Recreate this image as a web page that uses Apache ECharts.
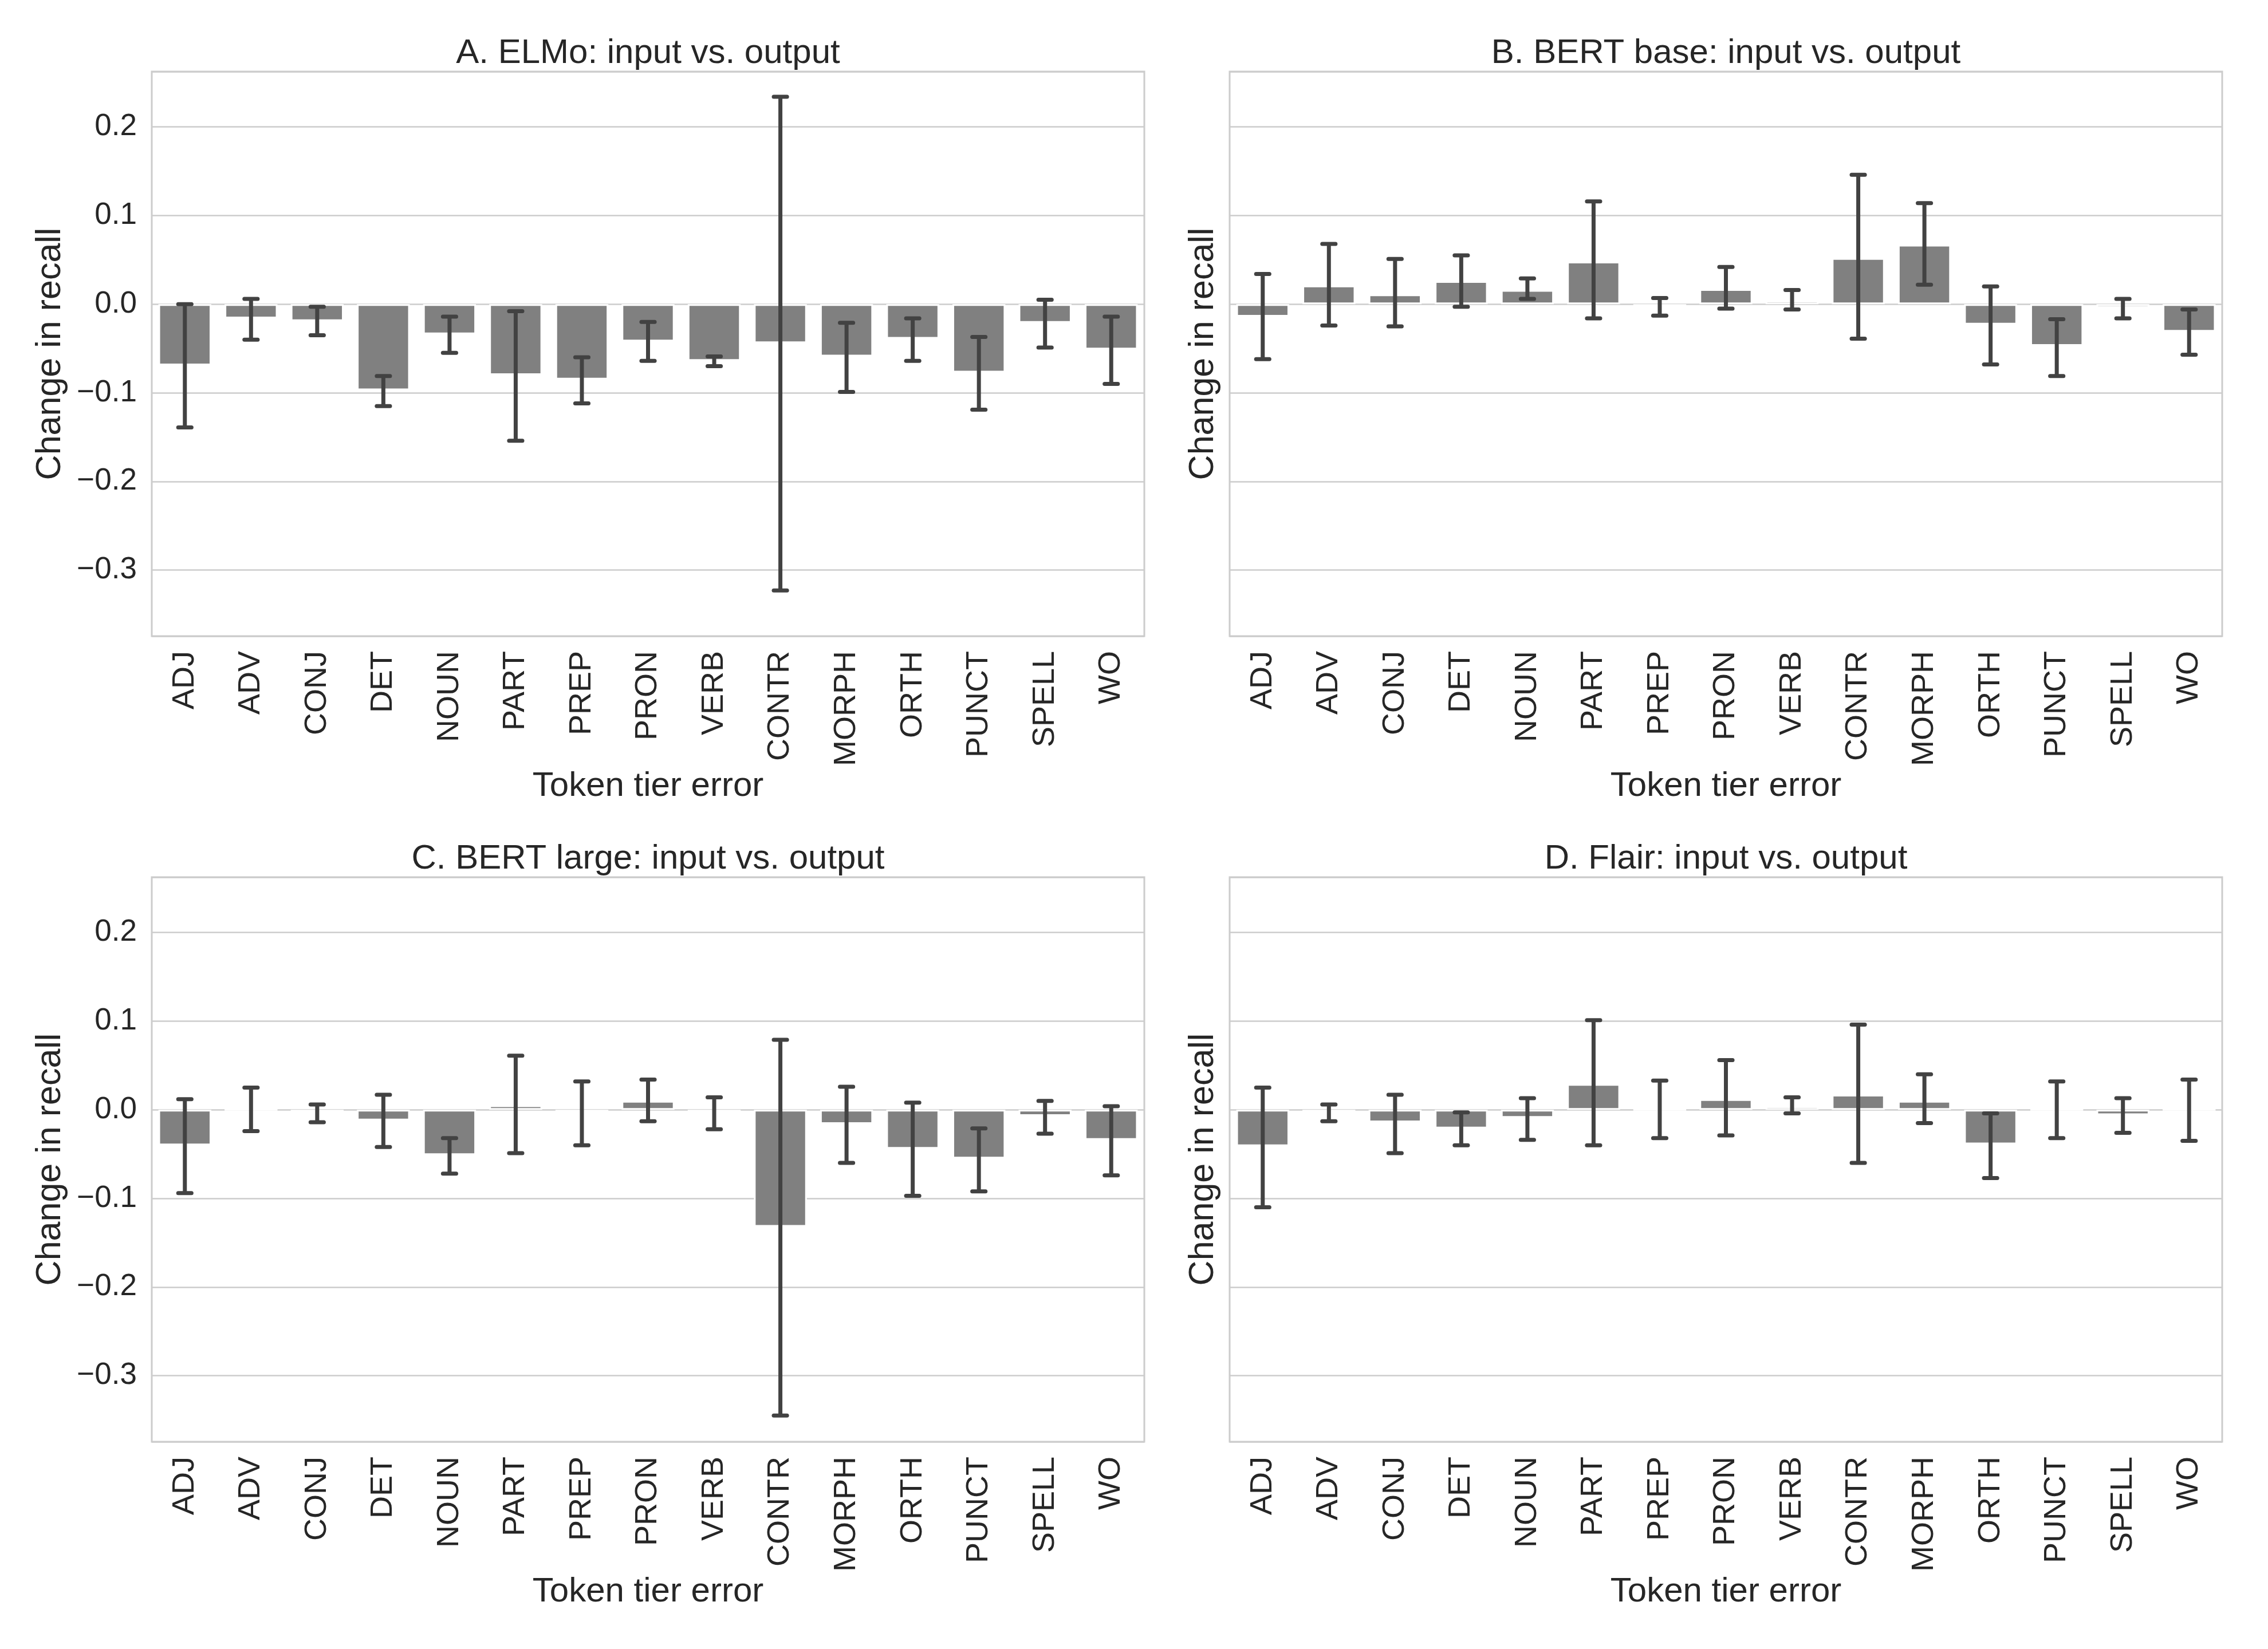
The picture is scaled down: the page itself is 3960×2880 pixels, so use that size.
<!DOCTYPE html>
<html>
<head>
<meta charset="utf-8">
<script src="https://cdn.jsdelivr.net/npm/echarts@6/dist/echarts.min.js"></script>
<style>
    html, body { margin: 0; padding: 0; background: #ffffff; }
    #chart { width: 3960px; height: 2880px; }
</style>
</head>
<body>
<div id="chart"></div>
<script>
const categories = ['ADJ', 'ADV', 'CONJ', 'DET', 'NOUN', 'PART', 'PREP', 'PRON', 'VERB', 'CONTR', 'MORPH', 'ORTH', 'PUNCT', 'SPELL', 'WO'];

// A. ELMo
const elmoMean = [-0.069, -0.016, -0.019, -0.097, -0.034, -0.080, -0.085, -0.042, -0.064, -0.044, -0.059, -0.039, -0.077, -0.021, -0.051];
const elmoLow  = [-0.139, -0.040, -0.035, -0.115, -0.055, -0.154, -0.112, -0.064, -0.070, -0.323, -0.099, -0.064, -0.119, -0.049, -0.090];
const elmoHigh = [0.000, 0.006, -0.003, -0.081, -0.014, -0.008, -0.060, -0.020, -0.059, 0.234, -0.021, -0.016, -0.037, 0.005, -0.014];

// B. BERT base
const bertBaseMean = [-0.014, 0.021, 0.011, 0.026, 0.016, 0.048, -0.002, 0.017, 0.004, 0.052, 0.067, -0.023, -0.047, -0.004, -0.031];
const bertBaseLow  = [-0.062, -0.024, -0.025, -0.003, 0.006, -0.016, -0.013, -0.005, -0.006, -0.039, 0.022, -0.068, -0.081, -0.016, -0.057];
const bertBaseHigh = [0.034, 0.068, 0.051, 0.055, 0.029, 0.116, 0.007, 0.042, 0.016, 0.146, 0.114, 0.020, -0.017, 0.006, -0.006];

// C. BERT large
const bertLargeMean = [-0.040, 0.000, -0.003, -0.012, -0.051, 0.005, -0.002, 0.010, -0.002, -0.132, -0.016, -0.044, -0.055, -0.007, -0.034];
const bertLargeLow  = [-0.094, -0.024, -0.014, -0.042, -0.072, -0.049, -0.040, -0.013, -0.022, -0.345, -0.060, -0.097, -0.092, -0.027, -0.074];
const bertLargeHigh = [0.012, 0.025, 0.006, 0.017, -0.032, 0.061, 0.032, 0.034, 0.014, 0.079, 0.026, 0.008, -0.021, 0.010, 0.004];

// D. Flair
const flairMean = [-0.041, -0.003, -0.014, -0.021, -0.009, 0.029, 0.000, 0.012, 0.004, 0.017, 0.010, -0.039, 0.000, -0.006, 0.000];
const flairLow  = [-0.110, -0.013, -0.049, -0.040, -0.034, -0.040, -0.032, -0.029, -0.004, -0.060, -0.015, -0.077, -0.032, -0.026, -0.035];
const flairHigh = [0.025, 0.006, 0.017, -0.003, 0.013, 0.101, 0.033, 0.056, 0.014, 0.096, 0.040, -0.004, 0.032, 0.013, 0.034];

const panelTitles = ['A. ELMo: input vs. output', 'B. BERT base: input vs. output', 'C. BERT large: input vs. output', 'D. Flair: input vs. output'];
const panelMeans = [elmoMean, bertBaseMean, bertLargeMean, flairMean];
const panelLows = [elmoLow, bertBaseLow, bertLargeLow, flairLow];
const panelHighs = [elmoHigh, bertBaseHigh, bertLargeHigh, flairHigh];

const yMin = -0.3745;
const yMax = 0.2624;

// layout
const plotW = 1733;
const plotH = 986;
const layout = [
    { left: 265, top: 125, yLabels: true },
    { left: 2147, top: 125, yLabels: false },
    { left: 265, top: 1532, yLabels: true },
    { left: 2147, top: 1532, yLabels: false }
];

const fontFamily = "'Liberation Sans', Arial, sans-serif";
const textColor = '#262626';

function formatTick(v) {
    const r = Math.round(v * 10);
    if (Math.abs(v * 10 - r) > 1e-6) return '';
    if (r === 0) return '0.0';
    return (r < 0 ? '\u2212' : '') + (Math.abs(r) / 10).toFixed(1);
}

function renderErrorBar(params, api) {
    const x = api.value(0);
    const hi = api.coord([x, api.value(2)]);
    const lo = api.coord([x, api.value(1)]);
    const capHalf = api.size([1, 0])[0] * 0.1;
    const style = { stroke: '#424242', lineWidth: 7, lineCap: 'round' };
    return {
        type: 'group',
        children: [
            { type: 'line', shape: { x1: hi[0], y1: hi[1], x2: lo[0], y2: lo[1] }, style: { stroke: '#424242', lineWidth: 7 } },
            { type: 'line', shape: { x1: hi[0] - capHalf, y1: hi[1], x2: hi[0] + capHalf, y2: hi[1] }, style: style },
            { type: 'line', shape: { x1: lo[0] - capHalf, y1: lo[1], x2: lo[0] + capHalf, y2: lo[1] }, style: style }
        ]
    };
}

const chart = echarts.init(document.getElementById('chart'), null, { renderer: 'canvas' });

const grids = [], xAxes = [], yAxes = [], series = [], graphics = [];

layout.forEach((pos, i) => {
    grids.push({
        left: pos.left, top: pos.top, width: plotW, height: plotH,
        show: true, borderColor: '#cccccc', borderWidth: 3, backgroundColor: 'transparent'
    });

    xAxes.push({
        gridIndex: i,
        type: 'category',
        data: categories,
        name: 'Token tier error',
        nameLocation: 'middle',
        nameGap: 232,
        nameTextStyle: { fontSize: 60, color: textColor, fontFamily: fontFamily },
        axisLine: { show: false },
        axisTick: { show: false },
        axisLabel: { rotate: 90, interval: 0, margin: 26, fontSize: 54, color: textColor, fontFamily: fontFamily },
        splitLine: { show: false }
    });

    yAxes.push({
        gridIndex: i,
        type: 'value',
        min: yMin,
        max: yMax,
        splitNumber: 6,
        name: 'Change in recall',
        nameLocation: 'middle',
        nameGap: pos.yLabels ? 146 : 15,
        nameTextStyle: { fontSize: 61, color: textColor, fontFamily: fontFamily },
        axisLine: { show: false },
        axisTick: { show: false },
        axisLabel: {
            show: pos.yLabels, margin: 26, fontSize: 53, color: textColor, fontFamily: fontFamily,
            showMinLabel: false, showMaxLabel: false, formatter: formatTick
        },
        splitLine: { lineStyle: { color: '#cccccc', width: 2.5 } }
    });

    series.push({
        type: 'bar',
        xAxisIndex: i,
        yAxisIndex: i,
        data: panelMeans[i],
        barWidth: '80%',
        itemStyle: { color: '#808080', borderColor: '#ffffff', borderWidth: 3 },
        z: 2,
        silent: true
    });

    series.push({
        type: 'custom',
        xAxisIndex: i,
        yAxisIndex: i,
        renderItem: renderErrorBar,
        encode: { x: 0, y: [1, 2] },
        data: categories.map((c, k) => [k, panelLows[i][k], panelHighs[i][k]]),
        z: 3,
        silent: true
    });

    graphics.push({
        type: 'text',
        x: pos.left + plotW / 2,
        y: pos.top - 32,
        style: {
            text: panelTitles[i],
            fontSize: 60,
            fontFamily: fontFamily,
            fill: textColor,
            align: 'center',
            verticalAlign: 'middle'
        }
    });
});

const option = {
    backgroundColor: '#ffffff',
    animation: false,
    grid: grids,
    xAxis: xAxes,
    yAxis: yAxes,
    series: series,
    graphic: graphics
};

chart.setOption(option);
</script>
</body>
</html>
